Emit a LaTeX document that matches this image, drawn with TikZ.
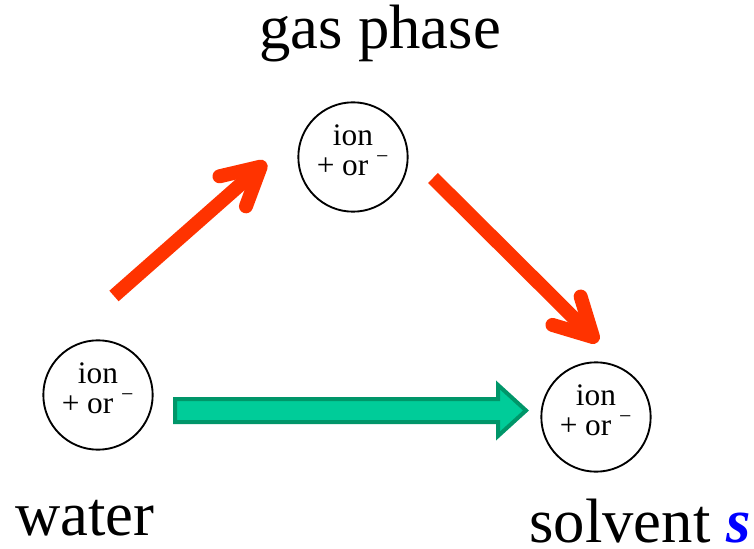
\documentclass[tikz,border=0pt]{standalone}
\usepackage{fontspec}
\setmainfont{Liberation Serif}
\usetikzlibrary{arrows.meta}

\definecolor{rosso}{RGB}{255,51,0}
\definecolor{verde}{RGB}{0,204,153}
\definecolor{verdescuro}{RGB}{0,150,105}

\begin{document}
\begin{tikzpicture}[x=0.75pt, y=-0.75pt,
    ione/.style={draw, circle, line width=1.4pt, minimum size=82pt, inner sep=0pt,
        label={[testo]center:ion\\+ or \textsuperscript{−}}},
    testo/.style={align=center, yshift=5pt, font=\fontsize{23.5}{22.5}\selectfont},
    titolo/.style={anchor=base, font=\fontsize{47}{47}\selectfont},
    freccia/.style={rosso, line width=10.5pt, -{Straight Barb[round, length=28pt, width=30pt]}}]
    \useasboundingbox (0,0) rectangle (754,549);

    % Cerchi
    \node[ione] (gas) at (353,157) {};
    \node[ione] (acq) at (98,395) {};
    \node[ione] (sol) at (596,417) {};

    % Etichette
    \node[titolo] (tgas) at (380,49) {gas phase};
    \node[titolo] (tacq) at (85,535) {water};
    \node[titolo] (tsol) at (640,542) {solvent \textcolor{blue}{\textbf{\textit{s}}}};

    % Frecce rosse
    \coordinate (a1) at (114,296);
    \coordinate (b1) at (266,162);
    \coordinate (a2) at (433,178);
    \coordinate (b2) at (598,342);
    \draw[freccia] (a1) -- (b1);
    \draw[freccia] (a2) -- (b2);

    % Freccia verde
    \draw[verdescuro, fill=verde, line width=3pt, line join=miter]
        (175,399) -- (498,399) -- (498,385) -- (526,410.5) -- (498,436)
        -- (498,422) -- (175,422) -- cycle;
\end{tikzpicture}
\end{document}
